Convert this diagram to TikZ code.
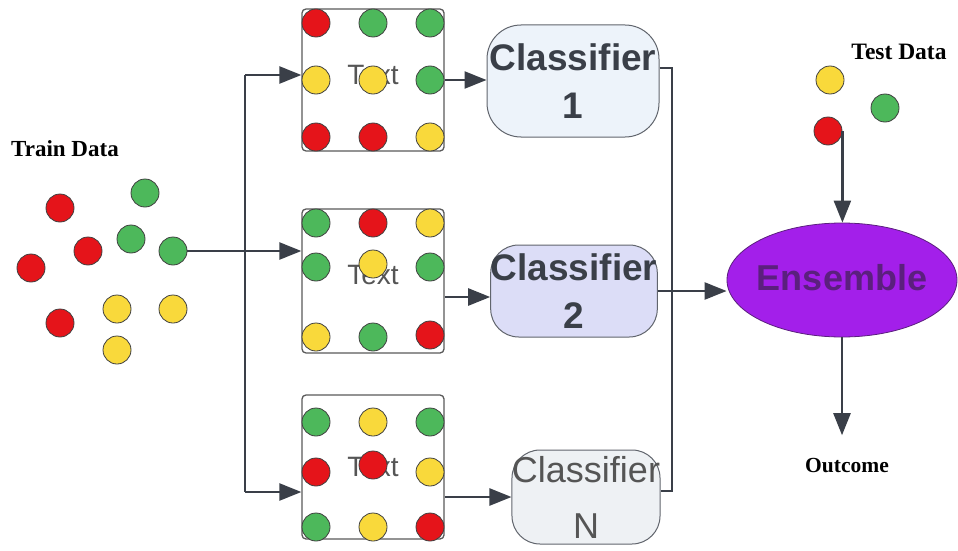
\documentclass[tikz,border=0pt]{standalone}
\usepackage{fontspec}
\setmainfont{Liberation Serif}
\setsansfont{Liberation Sans}
\usetikzlibrary{arrows.meta,shapes.geometric}
\definecolor{cred}{HTML}{E5141A}
\definecolor{cgreen}{HTML}{4DB85B}
\definecolor{cyellow}{HTML}{F9D93B}
\definecolor{cline}{HTML}{3A3F48}
\definecolor{cbox}{HTML}{5A5A5A}
\definecolor{clsA}{HTML}{EDF3FA}
\definecolor{clsB}{HTML}{DCDDF7}
\definecolor{clsC}{HTML}{EEF1F4}
\definecolor{cpurple}{HTML}{A31FEA}
\definecolor{cpurpletext}{HTML}{5B1F7E}
\definecolor{ctextgray}{HTML}{555555}
\begin{document}
\begin{tikzpicture}[x=1pt,y=-1pt,
  dot/.style={circle,draw=black!75,line width=0.8pt,minimum size=28pt,inner sep=0pt},
  dr/.style={dot,fill=cred},
  dg/.style={dot,fill=cgreen},
  dy/.style={dot,fill=cyellow},
  arr/.style={draw=cline,line width=2.4pt,-{Triangle[length=22pt,width=17pt]}},
  ln/.style={draw=cline,line width=2.4pt},
  sample/.style={draw=cbox,line width=1.3pt,rounded corners=4pt,minimum width=142pt,minimum height=142pt,inner sep=0pt},
  txt/.style={font=\sffamily\fontsize{28}{30}\selectfont,text=ctextgray},
  clsbox/.style={draw=cline!80,line width=1pt,rounded corners=30pt,align=center,inner sep=0pt},
  clsbold/.style={clsbox,font=\sffamily\bfseries\fontsize{37}{48}\selectfont,text=cline},
  lbl/.style={font=\rmfamily\bfseries\fontsize{23}{26}\selectfont,text=black}
]
\useasboundingbox[fill=white] (0,0) rectangle (958,551);

% Train data
\node[lbl] (train) at (65,149) {Train Data};
\node[dr] (t1) at (60,208) {};
\node[dg] (t2) at (145,193) {};
\node[dr] (t3) at (88,251) {};
\node[dg] (t4) at (131,239) {};
\node[dg] (t5) at (173,251) {};
\node[dr] (t6) at (31,268) {};
\node[dr] (t7) at (60,323) {};
\node[dy] (t8) at (117,309) {};
\node[dy] (t9) at (173,309) {};
\node[dy] (t10) at (117,350) {};

% Sample boxes
\node[sample] (box1) at (373,80) {};
\node[sample,minimum height=144pt] (box2) at (373,281) {};
\node[sample,minimum height=144pt] (box3) at (373,467) {};
\node[txt] (x1) at (373,75) {Text};
\node[txt] (x2) at (373,275) {Text};
\node[txt] (x3) at (373,467) {Text};

\node[dr] (b1a) at (316,23) {};
\node[dg] (b1b) at (373,23) {};
\node[dg] (b1c) at (430,23) {};
\node[dy] (b1d) at (316,80) {};
\node[dy] (b1e) at (373,80) {};
\node[dg] (b1f) at (430,80) {};
\node[dr] (b1g) at (316,137) {};
\node[dr] (b1h) at (373,137) {};
\node[dy] (b1i) at (430,137) {};

\node[dg] (b2a) at (316,223) {};
\node[dr] (b2b) at (373,223) {};
\node[dy] (b2c) at (430,223) {};
\node[dg] (b2d) at (316,267) {};
\node[dy] (b2e) at (373,264) {};
\node[dg] (b2f) at (430,267) {};
\node[dy] (b2g) at (316,337) {};
\node[dg] (b2h) at (373,337) {};
\node[dr] (b2i) at (430,335) {};

\node[dg] (b3a) at (316,422) {};
\node[dy] (b3b) at (373,422) {};
\node[dg] (b3c) at (430,422) {};
\node[dr] (b3d) at (316,472) {};
\node[dr] (b3e) at (373,465) {};
\node[dy] (b3f) at (430,472) {};
\node[dg] (b3g) at (316,527) {};
\node[dy] (b3h) at (373,527) {};
\node[dr] (b3i) at (430,527) {};

% Classifiers
\node[clsbold,fill=clsA,minimum width=172pt,minimum height=112pt,rounded corners=34pt] (cls1) at (573,81) {Classifier\\1};
\node[clsbold,fill=clsB,minimum width=146pt,minimum height=92pt,rounded corners=28pt] (cls2) at (574,291) {Classifier\\2};
\node[clsbox,fill=clsC,minimum width=146pt,minimum height=94pt,rounded corners=28pt,font=\sffamily\fontsize{36}{56}\selectfont,text=ctextgray] (clsN) at (586,497) {Classifier\\N};

% Ensemble
\node[ellipse,draw=cpurpletext,line width=0.8pt,fill=cpurple,minimum width=230pt,minimum height=114pt,inner sep=0pt] (ens) at (842,280) {};
\node[font=\sffamily\bfseries\fontsize{36}{40}\selectfont,text=cpurpletext] (enst) at (842,278) {Ensemble};

% Test data
\node[lbl,font=\rmfamily\bfseries\fontsize{23.5}{26}\selectfont] (test) at (899,52) {Test Data};
\node[dy] (s1) at (830,80) {};
\node[dg] (s2) at (885,108) {};
\node[dr] (s3) at (828,131) {};

\node[lbl,font=\rmfamily\bfseries\fontsize{21.5}{24}\selectfont] (outc) at (847,466) {Outcome};

% Connectors
\coordinate (split1) at (245,75);
\coordinate (split3) at (245,492);
\coordinate (j1) at (672,68);
\coordinate (j3) at (672,491);

\draw[arr] (t5.east) -- (t5.east -| box2.west);
\draw[ln] (split1) -- (split3);
\draw[arr] (split1) -- (split1 -| box1.west);
\draw[arr] (split3) -- (split3 -| box3.west);

\draw[arr] (box1.east) -- (box1.east -| cls1.west);
\draw[arr] (box2.east |- 0,297) -- (cls2.west |- 0,297);
\draw[arr] (box3.east |- clsN.west) -- (clsN.west);

\draw[ln] (cls1.east |- j1) -- (j1) -- (j3) -- (clsN.east |- j3);
\draw[arr] (cls2.east) -- (cls2.east -| ens.west);

\draw[arr] (s3.east) -- (s3.east |- ens.north);
\draw[arr] (ens.south) -- ([yshift=20pt]ens.south |- outc.north);
\end{tikzpicture}
\end{document}
